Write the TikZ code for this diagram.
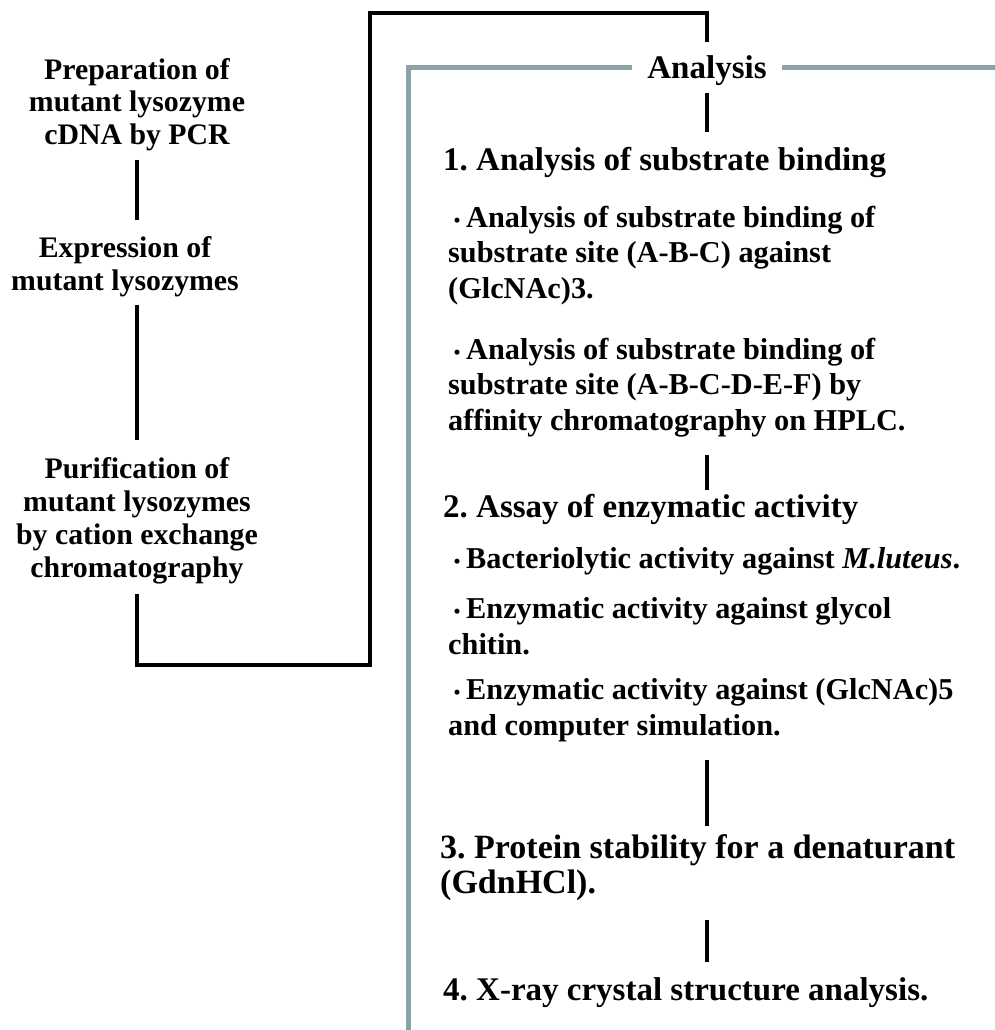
\documentclass[tikz,border=0pt]{standalone}
\usepackage{fontspec}
\setmainfont{Liberation Serif}
\newfontfamily\cjk{Noto Sans CJK JP}
\definecolor{framegray}{RGB}{138,163,166}
\newcommand{\bul}{\makebox[18pt][c]{\cjk\fontsize{18}{18}\selectfont ・}}
\frenchspacing

\begin{document}
\begin{tikzpicture}[x=1pt,y=-1pt,
    lefttext/.style={anchor=base,align=center,inner sep=0pt,font=\bfseries\fontsize{29.8}{33}\selectfont},
    headtext/.style={anchor=base west,align=left,inner sep=0pt,font=\bfseries\fontsize{33}{35}\selectfont},
    itemtext/.style={anchor=base west,align=left,inner sep=0pt,font=\bfseries\fontsize{30.3}{35.5}\selectfont},
    joinline/.style={line width=4pt},
    grayrule/.style={line width=5pt,framegray}]
  \useasboundingbox (0,0) rectangle (995,1030);

  % left column (placed at the baseline of the last line)
  \node[lefttext] (prep) at (137,145) {Preparation of\\mutant lysozyme\\cDNA by PCR};
  \node[lefttext] (expr) at (125,290) {Expression of\\mutant lysozymes};
  \node[lefttext] (pur) at (137,577) {Purification of\\mutant lysozymes\\by cation exchange\\chromatography};
  \draw[joinline] ([yshift=-8pt]prep.south) -- (prep.south |- 0,220);
  \draw[joinline] ([yshift=-8pt]prep.south |- expr.south) -- (prep.south |- 0,440);

  % analysis block
  \node[headtext,anchor=base] (ana) at (707,79) {Analysis};
  \coordinate (fl) at (632,68);
  \coordinate (fr) at (782,68);
  \draw[grayrule] (408,1035) |- (fl);
  \draw[grayrule] (fr) -- (1000,68);
  \draw[joinline] ([yshift=-10pt]pur.south) -- (137,665) -- (370,665) -- (370,13) -| ([yshift=14pt]ana.north);

  \node[headtext] (h1) at (443,170) {1. Analysis of substrate binding};
  \node[itemtext] (b1) at (448,298) {\bul Analysis of substrate binding of\\substrate site (A-B-C) against\\(GlcNAc)3.};
  \node[itemtext] (b2) at (448,430) {\bul Analysis of substrate binding of\\substrate site (A-B-C-D-E-F) by\\affinity chromatography on HPLC.};
  \node[headtext] (h2) at (443,517) {2. Assay of enzymatic activity};
  \node[itemtext] (b3) at (448,568) {\bul Bacteriolytic activity against \textit{M.luteus}.};
  \node[itemtext] (b4) at (448,654) {\bul Enzymatic activity against glycol\\chitin.};
  \node[itemtext] (b5) at (448,735) {\bul Enzymatic activity against (GlcNAc)5\\and computer simulation.};
  \node[headtext,font=\bfseries\fontsize{34}{35}\selectfont] (h3) at (440,893) {3. Protein stability for a denaturant\\(GdnHCl).};
  \node[headtext] (h4) at (443,1000) {4. X-ray crystal structure analysis.};

  \draw[joinline] ([yshift=-7pt]ana.south) -- (707,132);
  \draw[joinline] (707,455) -- (707,490);
  \draw[joinline] (707,760) -- (707,826);
  \draw[joinline] (707,920) -- (707,962);
\end{tikzpicture}
\end{document}
